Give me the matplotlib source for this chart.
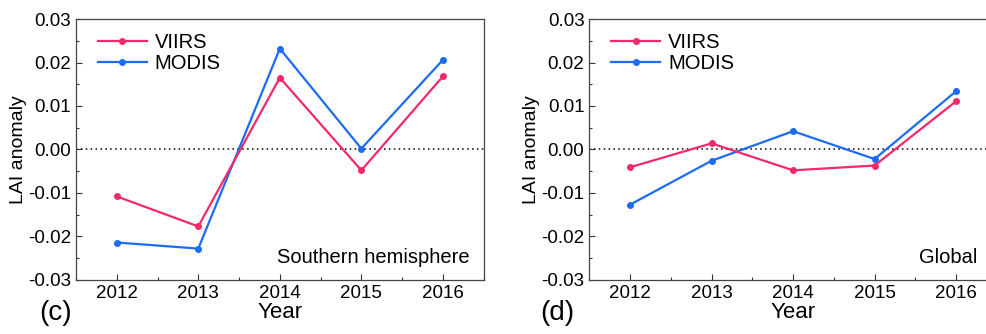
import matplotlib.pyplot as plt
from matplotlib.ticker import MultipleLocator

plt.rcParams["font.family"] = ["Liberation Sans", "DejaVu Sans"]

years = [2012, 2013, 2014, 2015, 2016]

# LAI anomalies, southern hemisphere
south_viirs = [-0.0108, -0.0177, 0.0165, -0.0048, 0.0168]
south_modis = [-0.0214, -0.0228, 0.0232, 0.0002, 0.0206]

# LAI anomalies, global
global_viirs = [-0.0041, 0.0014, -0.0048, -0.0037, 0.0111]
global_modis = [-0.0127, -0.0026, 0.0042, -0.0022, 0.0134]

panels = [
    ("(c)", "Southern hemisphere", south_viirs, south_modis, -0.09, 0.965),
    ("(d)", "Global", global_viirs, global_modis, -0.12, 0.951),
]

viirs_color = "#f2296b"
modis_color = "#1c6cf2"

fig = plt.figure(figsize=(9.87, 3.34), dpi=100)
axes = [
    fig.add_axes([0.077, 0.162, 0.413, 0.781]),
    fig.add_axes([0.597, 0.162, 0.413, 0.781]),
]

for ax, (tag, region, viirs, modis, tag_x, region_x) in zip(axes, panels):
    ax.axhline(0, color="black", linestyle=(0, (1, 2.2)), linewidth=1.1, zorder=1)
    ax.plot(years, viirs, color=viirs_color, marker="o", markersize=4,
            linewidth=1.6, label="VIIRS", zorder=3)
    ax.plot(years, modis, color=modis_color, marker="o", markersize=4,
            linewidth=1.6, label="MODIS", zorder=2)

    ax.set_xlim(2011.5, 2016.5)
    ax.set_ylim(-0.03, 0.03)
    ax.set_xticks(years)
    ax.xaxis.set_minor_locator(MultipleLocator(0.5))
    ax.yaxis.set_major_locator(MultipleLocator(0.01))
    ax.yaxis.set_minor_locator(MultipleLocator(0.005))
    ax.yaxis.set_major_formatter(lambda v, pos: f"{v:.2f}".replace("-0.00", "0.00"))
    ax.tick_params(which="both", direction="in", labelsize=13.5, color="#333333")
    ax.tick_params(which="major", length=4, width=0.8)
    ax.tick_params(which="minor", length=2, width=0.8)
    for s in ax.spines.values():
        s.set_color("#444444")
        s.set_linewidth(0.9)

    ax.set_xlabel("Year", fontsize=16, labelpad=0.5)
    ax.set_ylabel("LAI anomaly", fontsize=14, labelpad=1)
    ax.text(region_x, 0.05, region, transform=ax.transAxes,
            ha="right", va="bottom", fontsize=14.5)
    ax.text(tag_x, -0.126, tag, transform=ax.transAxes, ha="left", va="center",
            fontsize=20)

    ax.legend(loc="upper left", frameon=False, fontsize=14.5, handlelength=2.4,
              handletextpad=0.4, labelspacing=0.1, borderaxespad=0.3,
              bbox_to_anchor=(0.02, 1.0))

fig.savefig("out.png", dpi=100)
